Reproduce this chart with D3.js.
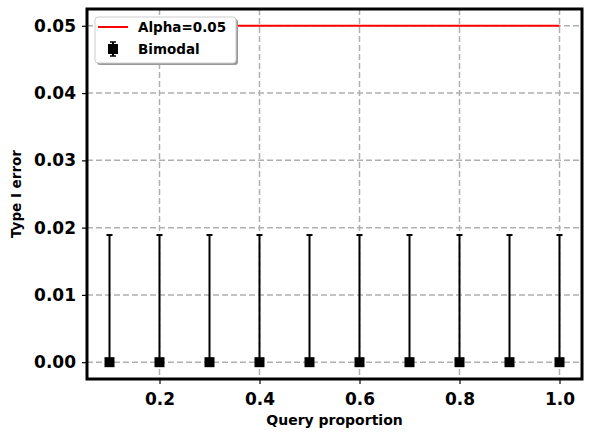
<!DOCTYPE html>
<html>
<head>
<meta charset="utf-8">
<script src="https://cdn.jsdelivr.net/npm/d3@7"></script>
<style>
  body { margin: 0; background: #fff; }
  text { font-family: "DejaVu Sans", sans-serif; font-weight: bold; }
</style>
</head>
<body>
<div id="chart"></div>
<script>
// data
let proportions = [0.1, 0.2, 0.3, 0.4, 0.5, 0.6, 0.7, 0.8, 0.9, 1.0];
let typeOneError = [0, 0, 0, 0, 0, 0, 0, 0, 0, 0];
let upperError = [0.0189, 0.0189, 0.0189, 0.0189, 0.0189, 0.0189, 0.0189, 0.0189, 0.0189, 0.0189];
let alpha = 0.05;
let xTicks = [0.2, 0.4, 0.6, 0.8, 1.0];
let yTicks = [0.00, 0.01, 0.02, 0.03, 0.04, 0.05];

let width = 592, height = 437;
let margin = {top: 9, right: 10, bottom: 58, left: 87};
let plotW = width - margin.left - margin.right;
let plotH = height - margin.top - margin.bottom;

let svg = d3.select("#chart").append("svg")
    .attr("width", width)
    .attr("height", height);

let g = svg.append("g")
    .attr("transform", `translate(${margin.left}, ${margin.top})`);

let x = d3.scaleLinear().domain([0.055, 1.045]).range([0, plotW]);
let y = d3.scaleLinear().domain([-0.0025, 0.0525]).range([plotH, 0]);

// grid
g.append("g").selectAll("line").data(xTicks).enter().append("line")
    .attr("x1", d => x(d)).attr("x2", d => x(d))
    .attr("y1", 0).attr("y2", plotH)
    .attr("stroke", "#b0b0b0").attr("stroke-width", 1.5)
    .attr("stroke-dasharray", "6,3");
g.append("g").selectAll("line").data(yTicks).enter().append("line")
    .attr("x1", 0).attr("x2", plotW)
    .attr("y1", d => y(d)).attr("y2", d => y(d))
    .attr("stroke", "#b0b0b0").attr("stroke-width", 1.5)
    .attr("stroke-dasharray", "6,3");

// axes
let xAxis = g.append("g")
    .attr("transform", `translate(0, ${plotH})`)
    .call(d3.axisBottom(x).tickValues(xTicks).tickFormat(d3.format(".1f")).tickSize(5).tickPadding(9));
let yAxis = g.append("g")
    .call(d3.axisLeft(y).tickValues(yTicks).tickFormat(d3.format(".2f")).tickSize(5).tickPadding(6));
[xAxis, yAxis].forEach(a => {
    a.select(".domain").remove();
    a.selectAll(".tick line").attr("stroke", "#000").attr("stroke-width", 1.2);
    a.selectAll(".tick text").attr("fill", "#000").style("font-size", "17px");
});

// alpha line
g.append("line")
    .attr("x1", x(proportions[0])).attr("x2", x(proportions[proportions.length - 1]))
    .attr("y1", y(alpha)).attr("y2", y(alpha))
    .attr("stroke", "#ff0000").attr("stroke-width", 2);

// error bars
let pts = proportions.map((p, i) => ({p: p, v: typeOneError[i], hi: typeOneError[i] + upperError[i]}));
let bars = g.append("g");
bars.selectAll("line.bar").data(pts).enter().append("line")
    .attr("class", "bar")
    .attr("x1", d => x(d.p)).attr("x2", d => x(d.p))
    .attr("y1", d => y(d.v)).attr("y2", d => y(d.hi))
    .attr("stroke", "#000").attr("stroke-width", 2);
bars.selectAll("line.cap").data(pts).enter().append("line")
    .attr("class", "cap")
    .attr("x1", d => x(d.p) - 3).attr("x2", d => x(d.p) + 3)
    .attr("y1", d => y(d.hi)).attr("y2", d => y(d.hi))
    .attr("stroke", "#000").attr("stroke-width", 2);
bars.selectAll("rect").data(pts).enter().append("rect")
    .attr("x", d => x(d.p) - 5).attr("y", d => y(d.v) - 5)
    .attr("width", 10).attr("height", 10)
    .attr("fill", "#000");

// frame
g.append("rect")
    .attr("width", plotW).attr("height", plotH)
    .attr("fill", "none").attr("stroke", "#000").attr("stroke-width", 3);

// axis labels
svg.append("text")
    .attr("x", margin.left + plotW / 2).attr("y", 425)
    .style("text-anchor", "middle").style("font-size", "14px")
    .text("Query proportion");
svg.append("text")
    .attr("transform", `translate(21, ${margin.top + plotH / 2}) rotate(-90)`)
    .style("text-anchor", "middle").style("font-size", "13.5px")
    .text("Type I error");

// legend
let legend = svg.append("g").attr("transform", "translate(95, 17)");
legend.append("rect")
    .attr("x", 2).attr("y", 2).attr("width", 141).attr("height", 46).attr("rx", 3)
    .attr("fill", "#999");
legend.append("rect")
    .attr("width", 141).attr("height", 46).attr("rx", 3)
    .attr("fill", "#fff").attr("stroke", "#ccc").attr("stroke-width", 1);
legend.append("line")
    .attr("x1", 3).attr("x2", 33).attr("y1", 10).attr("y2", 10)
    .attr("stroke", "#ff0000").attr("stroke-width", 2);
legend.append("text").attr("x", 43).attr("y", 15).style("font-size", "13.5px").text("Alpha=0.05");
legend.append("line")
    .attr("x1", 18).attr("x2", 18).attr("y1", 25).attr("y2", 39)
    .attr("stroke", "#000").attr("stroke-width", 2);
legend.append("line").attr("x1", 15).attr("x2", 21).attr("y1", 25).attr("y2", 25)
    .attr("stroke", "#000").attr("stroke-width", 1.5);
legend.append("line").attr("x1", 15).attr("x2", 21).attr("y1", 39).attr("y2", 39)
    .attr("stroke", "#000").attr("stroke-width", 1.5);
legend.append("rect").attr("x", 13).attr("y", 27).attr("width", 10).attr("height", 10).attr("fill", "#000");
legend.append("text").attr("x", 43).attr("y", 37).style("font-size", "13.5px").text("Bimodal");
</script>
</body>
</html>
